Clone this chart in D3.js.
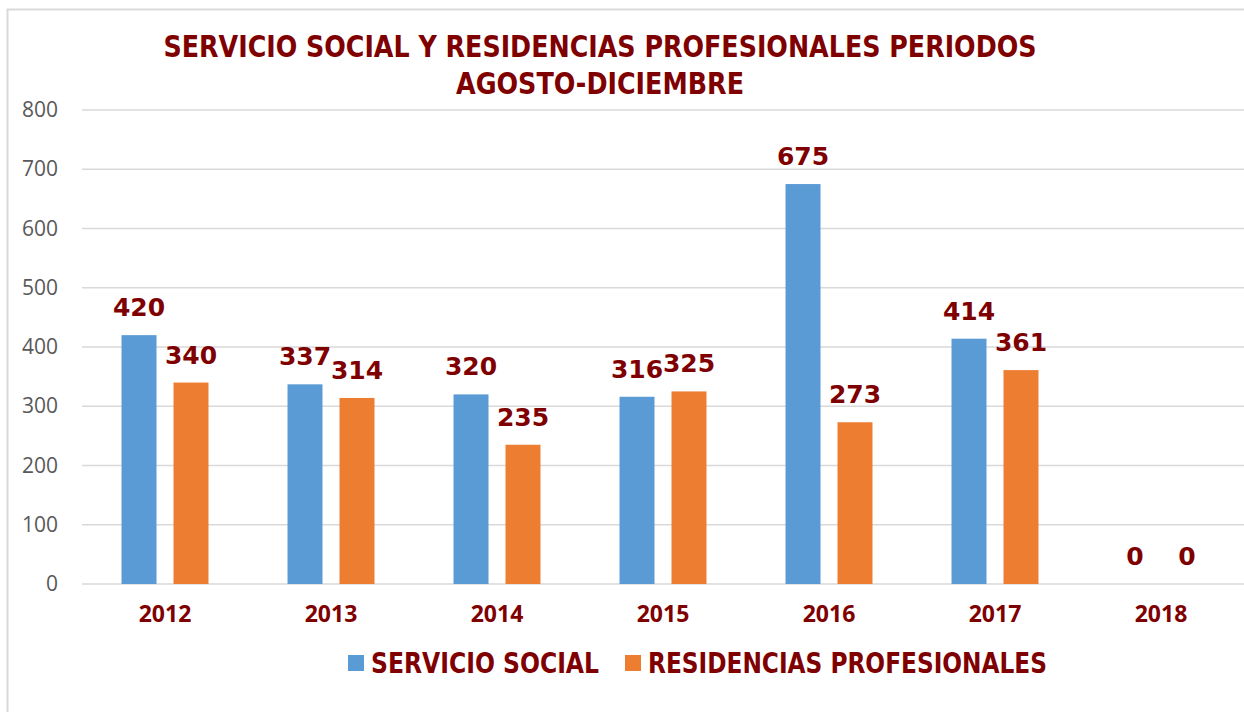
<!DOCTYPE html>
<html>
<head>
<meta charset="utf-8">
<script src="https://cdn.jsdelivr.net/npm/d3@7"></script>
<style>
  body { margin: 0; background: #fff; }
  svg { display: block; }
</style>
</head>
<body>
<div id="chart"></div>
<script>
// data
var years = ["2012", "2013", "2014", "2015", "2016", "2017", "2018"];
var seriesNames = ["SERVICIO SOCIAL", "RESIDENCIAS PROFESIONALES"];
var servicioSocial = [420, 337, 320, 316, 675, 414, 0];
var residencias = [340, 314, 235, 325, 273, 361, 0];
var yTicks = [0, 100, 200, 300, 400, 500, 600, 700, 800];
var titleLines = ["SERVICIO SOCIAL Y RESIDENCIAS PROFESIONALES PERIODOS", "AGOSTO-DICIEMBRE"];

var colors = ["#5B9BD5", "#ED7D31"];
var darkRed = "#7F0000";
var titleFont = "'DejaVu Sans Condensed', 'DejaVu Sans', sans-serif";

var svgWidth = 1244;
var svgHeight = 712;

var margin = { top: 110, right: 0, bottom: 128, left: 82 };
var width = svgWidth - margin.left - margin.right;
var height = svgHeight - margin.top - margin.bottom;

var svg = d3.select("#chart")
  .append("svg")
  .attr("width", svgWidth)
  .attr("height", svgHeight);

// chart area border (runs past the right and bottom of the picture)
svg.append("rect")
  .attr("x", 7.5).attr("y", 9.5)
  .attr("width", 1400).attr("height", 900)
  .attr("fill", "#fff")
  .attr("stroke", "#d9d9d9")
  .attr("stroke-width", 2);

// title
svg.selectAll(".title")
  .data(titleLines)
  .enter().append("text")
  .attr("class", "title")
  .attr("x", 600)
  .attr("y", (d, i) => 57 + i * 37)
  .attr("text-anchor", "middle")
  .attr("textLength", (d, i) => i == 0 ? 873 : 288)
  .attr("lengthAdjust", "spacingAndGlyphs")
  .style("font-family", titleFont)
  .style("font-weight", "bold")
  .style("font-size", "31px")
  .style("fill", darkRed)
  .text(d => d);

var chartGroup = svg.append("g")
  .attr("transform", `translate(${margin.left}, ${margin.top})`);

var data = years.map(function(y, i) {
  return { year: y, values: [servicioSocial[i], residencias[i]] };
});

var x0 = d3.scaleBand()
  .domain(years)
  .range([0, width])
  .padding(0);

var x1 = d3.scaleBand()
  .domain([0, 1])
  .range([0, x0.bandwidth()])
  .paddingInner(0.327)
  .paddingOuter(0.76);

var yScale = d3.scaleLinear()
  .domain([0, 800])
  .range([height, 0]);

// gridlines
chartGroup.append("g")
  .selectAll("line")
  .data(yTicks)
  .enter().append("line")
  .attr("x1", 0)
  .attr("x2", width)
  .attr("y1", d => yScale(d))
  .attr("y2", d => yScale(d))
  .attr("stroke", "#d9d9d9")
  .attr("stroke-width", 1.5);

// y axis labels
var leftAxis = d3.axisLeft(yScale).tickValues(yTicks).tickSize(0).tickPadding(24);
var yAxisG = chartGroup.append("g").call(leftAxis);
yAxisG.select(".domain").remove();
yAxisG.selectAll("text")
  .style("font-family", "'Open Sans', 'Noto Sans', sans-serif")
  .style("font-size", "21px")
  .style("fill", "#595959");

// x axis labels
var bottomAxis = d3.axisBottom(x0).tickSize(0).tickPadding(22);
var xAxisG = chartGroup.append("g")
  .attr("transform", `translate(0, ${height})`)
  .call(bottomAxis);
xAxisG.select(".domain").remove();
xAxisG.selectAll("text")
  .style("font-family", "'Open Sans', 'Noto Sans', sans-serif")
  .style("font-weight", "bold")
  .style("font-size", "23px")
  .style("fill", darkRed);

// bars
var groups = chartGroup.selectAll(".year")
  .data(data)
  .enter().append("g")
  .attr("class", "year")
  .attr("transform", d => `translate(${x0(d.year)}, 0)`);

groups.selectAll("rect")
  .data(d => d.values)
  .enter().append("rect")
  .attr("x", (d, i) => x1(i))
  .attr("y", d => yScale(d))
  .attr("width", x1.bandwidth())
  .attr("height", d => height - yScale(d))
  .attr("fill", (d, i) => colors[i]);

// data labels
groups.selectAll("text")
  .data(d => d.values)
  .enter().append("text")
  .attr("x", (d, i) => x1(i) + x1.bandwidth() / 2)
  .attr("y", d => yScale(d) - 19)
  .attr("text-anchor", "middle")
  .style("font-family", "'DejaVu Sans', sans-serif")
  .style("font-weight", "bold")
  .style("font-size", "25px")
  .style("fill", darkRed)
  .text(d => d);

// legend
var legendX = [348, 625];
var legend = svg.selectAll(".legend")
  .data(seriesNames)
  .enter().append("g")
  .attr("class", "legend")
  .attr("transform", (d, i) => `translate(${legendX[i]}, 655)`);

legend.append("rect")
  .attr("width", 16)
  .attr("height", 16)
  .attr("fill", (d, i) => colors[i]);

legend.append("text")
  .attr("x", 23)
  .attr("y", 18)
  .attr("textLength", (d, i) => i == 0 ? 228 : 399)
  .attr("lengthAdjust", "spacingAndGlyphs")
  .style("font-family", titleFont)
  .style("font-weight", "bold")
  .style("font-size", "28px")
  .style("fill", darkRed)
  .text(d => d);
</script>
</body>
</html>
